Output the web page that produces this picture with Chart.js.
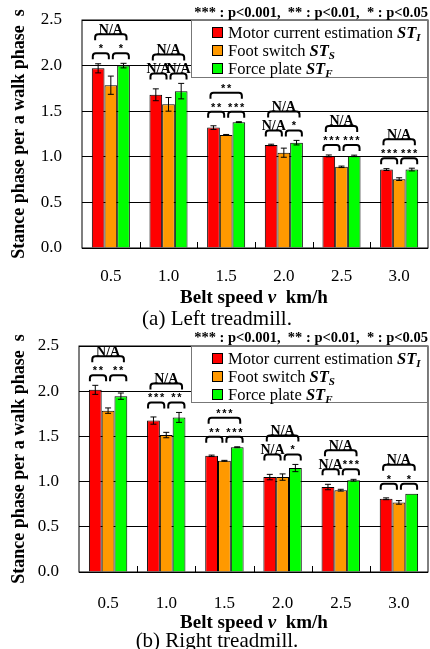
<!DOCTYPE html>
<html>
<head>
<meta charset="utf-8">
<script src="https://cdn.jsdelivr.net/npm/chart.js@4.4.0/dist/chart.umd.min.js"></script>
<style>
  body { margin: 0; background: #fff; }
  #wrap { position: relative; width: 430px; height: 649px; overflow: hidden; font-family: "Liberation Serif", serif; color: #000; }
  .box { position: absolute; left: 0; width: 430px; }
  .hdr { position: absolute; right: 2px; font-weight: bold; font-size: 14.5px; line-height: 16px; white-space: pre; }
  .leg { position: absolute; left: 191px; width: 237px; height: 58px; box-sizing: border-box; border: 1px solid #777; background: #fff; padding-top: 3px; }
  .row { height: 18px; line-height: 18px; font-size: 16.5px; white-space: nowrap; }
  .sq { display: inline-block; width: 9px; height: 9px; border: 1px solid #000; margin-left: 20px; margin-right: 5px; vertical-align: 0px; }
  .row sub { font-size: 11px; vertical-align: -3px; line-height: 0; }
  .xt { position: absolute; left: 154px; width: 200px; text-align: center; font-weight: bold; font-size: 19px; line-height: 22px; white-space: nowrap; }
  .cap { position: absolute; left: 67px; width: 300px; text-align: center; font-size: 21px; line-height: 24px; white-space: nowrap; }
</style>
</head>
<body>
<div id="wrap">
  <div class="box" style="top:0;height:324px"><canvas id="c1"></canvas></div>
  <div class="box" style="top:324px;height:325px"><canvas id="c2"></canvas></div>

  <div class="hdr" style="top:4px">*** : p&lt;0.001,  ** : p&lt;0.01,  * : p&lt;0.05</div>
  <div class="leg" style="top:20px">
    <div class="row"><span class="sq" style="background:#ff0000"></span>Motor current estimation <b><i>ST<sub>I</sub></i></b></div>
    <div class="row"><span class="sq" style="background:#ff9900"></span>Foot switch <b><i>ST<sub>S</sub></i></b></div>
    <div class="row"><span class="sq" style="background:#00ff00"></span>Force plate <b><i>ST<sub>F</sub></i></b></div>
  </div>
  <div class="xt" style="top:286px">Belt speed <i>v</i>&nbsp; km/h</div>
  <div class="cap" style="top:306px">(a) Left treadmill.</div>

  <div class="hdr" style="top:329px">*** : p&lt;0.001,  ** : p&lt;0.01,  * : p&lt;0.05</div>
  <div class="leg" style="top:346px;height:57px">
    <div class="row"><span class="sq" style="background:#ff0000"></span>Motor current estimation <b><i>ST<sub>I</sub></i></b></div>
    <div class="row"><span class="sq" style="background:#ff9900"></span>Foot switch <b><i>ST<sub>S</sub></i></b></div>
    <div class="row"><span class="sq" style="background:#00ff00"></span>Force plate <b><i>ST<sub>F</sub></i></b></div>
  </div>
  <div class="xt" style="top:611px">Belt speed <i>v</i>&nbsp; km/h</div>
  <div class="cap" style="top:628px">(b) Right treadmill.</div>
</div>

<script>
const speeds = ['0.5', '1.0', '1.5', '2.0', '2.5', '3.0'];
const seriesNames = ['Motor current estimation', 'Foot switch', 'Force plate'];

// left treadmill
const leftMotor = [1.97, 1.68, 1.32, 1.13, 1.01, 0.86];
const leftMotorErr = [0.05, 0.065, 0.02, 0.008, 0.01, 0.01];
const leftFoot = [1.785, 1.575, 1.24, 1.045, 0.89, 0.755];
const leftFootErr = [0.10, 0.075, 0.005, 0.05, 0.008, 0.015];
const leftForce = [2.0, 1.72, 1.38, 1.155, 1.01, 0.86];
const leftForceErr = [0.025, 0.085, 0.005, 0.025, 0.008, 0.015];
const leftSigMS = ['*', 'N/A', '**', 'N/A', '***', '***'];
const leftSigSF = ['*', 'N/A', '***', '*', '***', '***'];
const leftSigMF = ['N/A', 'N/A', '**', 'N/A', 'N/A', 'N/A'];

// right treadmill
const rightMotor = [2.015, 1.675, 1.285, 1.05, 0.94, 0.81];
const rightMotorErr = [0.05, 0.04, 0.008, 0.03, 0.03, 0.01];
const rightFoot = [1.785, 1.515, 1.23, 1.05, 0.905, 0.77];
const rightFootErr = [0.03, 0.03, 0.005, 0.035, 0.01, 0.02];
const rightForce = [1.945, 1.71, 1.38, 1.15, 1.015, 0.865];
const rightForceErr = [0.035, 0.055, 0.005, 0.04, 0.01, 0];
const rightSigMS = ['**', '***', '**', 'N/A', 'N/A', '*'];
const rightSigSF = ['**', '**', '***', '*', '***', '*'];
const rightSigMF = ['N/A', 'N/A', '***', 'N/A', 'N/A', 'N/A'];

const colors = ['#ff0000', '#ff9900', '#00ff00'];

function bracket(ctx, x1, x2, yTop) {
    const h = 6, r = 3;
    ctx.beginPath();
    ctx.moveTo(x1, yTop + h);
    ctx.lineTo(x1, yTop + r);
    ctx.quadraticCurveTo(x1, yTop, x1 + r, yTop);
    ctx.lineTo(x2 - r, yTop);
    ctx.quadraticCurveTo(x2, yTop, x2, yTop + r);
    ctx.lineTo(x2, yTop + h);
    ctx.stroke();
}

function label(ctx, txt, x, yTop) {
    ctx.textAlign = 'center';
    ctx.textBaseline = 'alphabetic';
    if (txt === 'N/A') {
        ctx.font = 'bold 14px "Liberation Serif"';
        ctx.fillText(txt, x, yTop - 0.5);
    } else {
        // stars drawn one by one, spaced like the original
        ctx.font = 'bold 11px "Liberation Sans"';
        const n = txt.length;
        for (let k = 0; k < n; k++) {
            ctx.fillText('*', x + (k - (n - 1) / 2) * 6, yTop - 1);
        }
    }
}

function makeSigPlugin(ms, sf, mf) {
    return {
        id: 'sig',
        afterDatasetsDraw(chart) {
            const ctx = chart.ctx, ys = chart.scales.y, xs = chart.scales.x, ca = chart.chartArea;
            const ds = chart.data.datasets;
            ctx.save();
            ctx.strokeStyle = '#000';
            ctx.fillStyle = '#000';

            // error bars
            ctx.lineWidth = 1;
            ds.forEach((d, di) => {
                chart.getDatasetMeta(di).data.forEach((bar, i) => {
                    const e = d.err[i];
                    if (!e) return;
                    const y1 = ys.getPixelForValue(d.data[i] + e);
                    const y2 = ys.getPixelForValue(d.data[i] - e);
                    ctx.beginPath();
                    ctx.moveTo(bar.x, y1); ctx.lineTo(bar.x, y2);
                    ctx.moveTo(bar.x - 3, y1); ctx.lineTo(bar.x + 3, y1);
                    ctx.moveTo(bar.x - 3, y2); ctx.lineTo(bar.x + 3, y2);
                    ctx.stroke();
                });
            });

            // frame + small ticks between groups
            ctx.strokeRect(ca.left, ca.top, ca.width, ca.height);
            const step = xs.getPixelForValue(1) - xs.getPixelForValue(0);
            ctx.beginPath();
            for (let i = 1; i < speeds.length; i++) {
                const x = Math.round(xs.getPixelForValue(i) - step / 2) + 0.5;
                ctx.moveTo(x, ca.bottom); ctx.lineTo(x, ca.bottom - 6);
            }
            ctx.stroke();

            // significance brackets
            ctx.lineWidth = 2;
            speeds.forEach((s, i) => {
                const bars = ds.map((d, di) => chart.getDatasetMeta(di).data[i]);
                const top = Math.min(...ds.map(d => ys.getPixelForValue(d.data[i] + (d.err[i] || 0))));
                const r = bars[0], o = bars[1], g = bars[2];
                const rl = r.x - r.width / 2 + 1, gr = g.x + g.width / 2 - 1;
                const b1 = top - 10;
                bracket(ctx, rl, o.x - 2, b1);
                bracket(ctx, o.x + 2, gr, b1);
                label(ctx, ms[i], (rl + o.x - 2) / 2, b1);
                label(ctx, sf[i], (o.x + 2 + gr) / 2, b1);
                const b2 = b1 - 19;
                bracket(ctx, r.x - 3, g.x + 3, b2);
                label(ctx, mf[i], (r.x + g.x) / 2, b2);
            });
            ctx.restore();
        }
    };
}

function makeChart(id, vals, errs, sig, padTop, yWidth, xHeight, tickPad) {
    return new Chart(document.getElementById(id).getContext('2d'), {
        type: 'bar',
        data: {
            labels: speeds,
            datasets: vals.map((v, k) => ({
                label: seriesNames[k],
                data: v,
                err: errs[k],
                backgroundColor: colors[k],
                borderColor: '#000',
                borderWidth: 1,
                categoryPercentage: 0.66,
                barPercentage: 1.0
            }))
        },
        options: {
            responsive: true,
            maintainAspectRatio: false,
            animation: false,
            layout: { padding: { top: padTop, right: 2, left: 0, bottom: 0 } },
            plugins: { legend: { display: false }, tooltip: { enabled: false } },
            scales: {
                x: {
                    grid: { display: false },
                    border: { display: false },
                    ticks: { color: '#000', font: { family: 'Liberation Serif', size: 17 }, padding: tickPad },
                    afterFit: s => { s.height = xHeight; }
                },
                y: {
                    min: 0,
                    max: 2.5,
                    grid: { color: '#000', drawTicks: false },
                    border: { display: false },
                    ticks: {
                        stepSize: 0.5,
                        callback: v => v.toFixed(1),
                        color: '#000',
                        font: { family: 'Liberation Serif', size: 17 },
                        padding: 20
                    },
                    title: {
                        display: true,
                        text: 'Stance phase per a walk phase  s',
                        color: '#000',
                        font: { family: 'Liberation Serif', size: 18, weight: 'bold' },
                        padding: { top: 9, bottom: 0 }
                    },
                    afterFit: s => {
                        s.width = yWidth;
                        s.paddingTop = 0;
                        s.paddingBottom = 0;
                    }
                }
            }
        },
        plugins: [makeSigPlugin(sig[0], sig[1], sig[2])]
    });
}

makeChart('c1',
    [leftMotor, leftFoot, leftForce],
    [leftMotorErr, leftFootErr, leftForceErr],
    [leftSigMS, leftSigSF, leftSigMF],
    20, 82, 76, 10);

makeChart('c2',
    [rightMotor, rightFoot, rightForce],
    [rightMotorErr, rightFootErr, rightForceErr],
    [rightSigMS, rightSigSF, rightSigMF],
    22, 79, 77, 13);
</script>
</body>
</html>
